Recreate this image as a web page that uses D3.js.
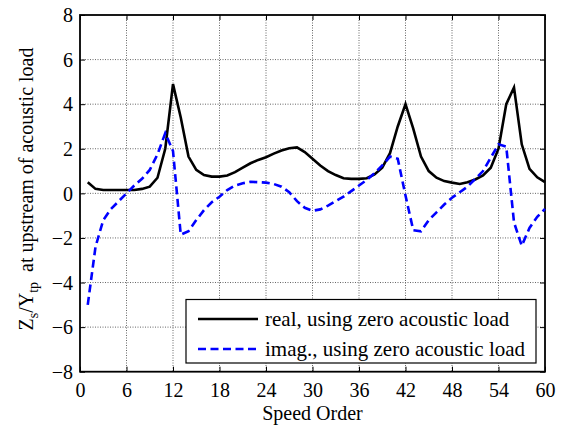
<!DOCTYPE html>
<html>
<head>
<meta charset="utf-8">
<script src="https://cdn.jsdelivr.net/npm/d3@7"></script>
<style>
  body { margin: 0; background: #fff; }
  svg { display: block; }
  text { font-family: "Liberation Serif", "Times New Roman", Times, serif; fill: #000; }
</style>
</head>
<body>
<svg id="chart" width="563" height="428"></svg>
<script>
const orders = d3.range(1, 61);
const realValues = [
  0.5, 0.2, 0.15, 0.15, 0.15, 0.15, 0.15, 0.2, 0.3, 0.7,
  2.0, 4.9, 3.4, 1.65, 1.05, 0.82, 0.75, 0.75, 0.8, 0.95,
  1.15, 1.35, 1.5, 1.62, 1.78, 1.92, 2.02, 2.06, 1.85, 1.55,
  1.25, 1.0, 0.82, 0.68, 0.65, 0.65, 0.68, 0.85, 1.15, 1.8,
  3.0, 4.0, 2.9, 1.65, 1.0, 0.7, 0.55, 0.48, 0.42, 0.5,
  0.62, 0.8, 1.15, 2.0, 4.0, 4.75, 2.2, 1.1, 0.72, 0.5
];
const imagValues = [
  -5.0, -2.4, -1.2, -0.7, -0.35, 0.0, 0.35, 0.65, 1.05, 1.75,
  2.7, 1.9, -1.85, -1.7, -1.2, -0.75, -0.4, -0.15, 0.15, 0.35,
  0.45, 0.52, 0.5, 0.48, 0.42, 0.3, 0.05, -0.35, -0.65, -0.78,
  -0.72, -0.55, -0.35, -0.15, 0.1, 0.35, 0.6, 0.9, 1.25, 1.65,
  1.55, -0.1, -1.65, -1.7, -1.2, -0.85, -0.5, -0.2, 0.05, 0.3,
  0.65, 1.0, 1.6, 2.2, 2.1, -1.3, -2.35, -1.55, -1.05, -0.7
];
const xTicks = [0, 6, 12, 18, 24, 30, 36, 42, 48, 54, 60];
const yTicks = [-8, -6, -4, -2, 0, 2, 4, 6, 8];
const legendLabels = ["real, using zero acoustic load", "imag., using zero acoustic load"];

const svg = d3.select("#chart");
const L = 80, T = 15, R = 545, B = 371.7;
const x = d3.scaleLinear().domain([0, 60]).range([L, R]);
const y = d3.scaleLinear().domain([-8, 8]).range([B, T]);

// grid
const grid = svg.append("g");
grid.selectAll(".gx").data(xTicks.slice(1, -1)).join("line")
  .attr("x1", d => x(d)).attr("x2", d => x(d)).attr("y1", T).attr("y2", B)
  .attr("stroke", "#666").attr("stroke-width", 1).attr("stroke-dasharray", "1,1.5");
grid.selectAll(".gy").data(yTicks.slice(1, -1)).join("line")
  .attr("y1", d => y(d)).attr("y2", d => y(d)).attr("x1", L).attr("x2", R)
  .attr("stroke", "#666").attr("stroke-width", 1).attr("stroke-dasharray", "1,1.5");

// axes with inward ticks
const tl = 5;
const axB = svg.append("g").attr("transform", `translate(0,${B})`)
  .call(d3.axisBottom(x).tickValues(xTicks).tickSize(-tl).tickPadding(tl + 6).tickFormat(d3.format("d")));
const axT = svg.append("g").attr("transform", `translate(0,${T})`)
  .call(d3.axisTop(x).tickValues(xTicks).tickSize(-tl).tickFormat(""));
const axL = svg.append("g").attr("transform", `translate(${L},0)`)
  .call(d3.axisLeft(y).tickValues(yTicks).tickSize(-tl).tickPadding(tl + 2).tickFormat(d3.format("d")));
const axR = svg.append("g").attr("transform", `translate(${R},0)`)
  .call(d3.axisRight(y).tickValues(yTicks).tickSize(-tl).tickFormat(""));
[axB, axT, axL, axR].forEach(a => {
  a.attr("font-family", null);
  a.select(".domain").remove();
  a.selectAll(".tick line").attr("stroke", "#000").attr("stroke-width", 1);
  a.selectAll(".tick text").attr("font-size", 20).attr("fill", "#000");
});
axB.selectAll(".tick text").attr("dy", "0.72em");
axL.selectAll(".tick text").attr("dy", "0.34em");

svg.append("rect").attr("x", L).attr("y", T).attr("width", R - L).attr("height", B - T)
  .attr("fill", "none").attr("stroke", "#000").attr("stroke-width", 1.8);

// lines
const line = d3.line().x((d, i) => x(orders[i])).y(d => y(d));
svg.append("path").datum(realValues).attr("d", line)
  .attr("fill", "none").attr("stroke", "#000").attr("stroke-width", 2.6).attr("stroke-linejoin", "miter");
svg.append("path").datum(imagValues).attr("d", line)
  .attr("fill", "none").attr("stroke", "#0000ff").attr("stroke-width", 2.6).attr("stroke-dasharray", "8,4.5");

// legend
const lg = svg.append("g");
lg.append("rect").attr("x", 186).attr("y", 299.5).attr("width", 350).attr("height", 63.5)
  .attr("fill", "#fff").attr("stroke", "#000").attr("stroke-width", 1.2);
const rows = [{y: 319, color: "#000", dash: null}, {y: 349, color: "#0000ff", dash: "8,4.5"}];
rows.forEach((r, i) => {
  lg.append("line").attr("x1", 198).attr("x2", 258).attr("y1", r.y).attr("y2", r.y)
    .attr("stroke", r.color).attr("stroke-width", 2.6).attr("stroke-dasharray", r.dash);
  lg.append("text").attr("x", 265).attr("y", r.y + 7).attr("font-size", 21).text(legendLabels[i]);
});

// axis titles
svg.append("text").attr("x", (L + R) / 2).attr("y", 420).attr("text-anchor", "middle")
  .attr("font-size", 20).text("Speed Order");

const yl = svg.append("text").attr("transform", "translate(33,189) rotate(-90)")
  .attr("text-anchor", "middle").attr("font-size", 20);
yl.append("tspan").text("Z");
yl.append("tspan").attr("font-size", 14).attr("dy", 5).text("s");
yl.append("tspan").attr("dy", -5).text("/Y");
yl.append("tspan").attr("font-size", 14).attr("dy", 5).text("tp");
yl.append("tspan").attr("dy", -5).text("\u00a0\u00a0at upstream of acoustic load");
</script>
</body>
</html>
